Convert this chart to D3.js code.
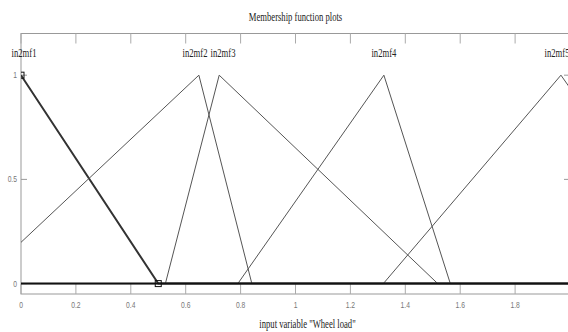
<!DOCTYPE html>
<html>
<head>
<meta charset="utf-8">
<script src="https://cdn.jsdelivr.net/npm/d3@7"></script>
<style>
  body { margin: 0; background: #fff; }
  svg { display: block; }
  .lbl { font-family: "Liberation Serif", serif; fill: #222; }
  .tick-lbl { font-family: "Liberation Sans", sans-serif; font-size: 9px; fill: #777; }
</style>
</head>
<body>
<div id="chart"></div>
<script>
// membership functions of input 2 (trimf parameters a, b, c)
var mfNames = ["in2mf1", "in2mf2", "in2mf3", "in2mf4", "in2mf5"],
    mfParams = [[-0.5, 0, 0.5], [-0.16, 0.648, 0.841], [0.526, 0.722, 1.518], [0.79, 1.322, 1.564], [1.32, 1.967, 2.5]],
    xTicks = [0, 0.2, 0.4, 0.6, 0.8, 1, 1.2, 1.4, 1.6, 1.8],
    yTicks = [0, 0.5, 1],
    xRange = [0, 2],
    yRange = [-0.05, 1.2],
    selected = 0;

var W = 568, H = 332,
    margin = { top: 33.5, right: -2, bottom: 38, left: 21 },
    width = W - margin.left - margin.right,
    height = H - margin.top - margin.bottom;

var svg = d3.select("#chart").append("svg")
    .attr("width", W)
    .attr("height", H);

var x = d3.scaleLinear().domain(xRange).range([0, width]);
var y = d3.scaleLinear().domain(yRange).range([height, 0]);

var g = svg.append("g")
    .attr("transform", "translate(" + margin.left + "," + margin.top + ")");

g.append("clipPath").attr("id", "clip")
  .append("rect").attr("width", width).attr("height", height);

// condensed serif text helper
function condensed(sel, px, sx, tx, ty, anchor, txt) {
  return sel.append("text")
    .attr("class", "lbl")
    .attr("font-size", px)
    .attr("text-anchor", anchor)
    .attr("transform", "translate(" + tx + "," + ty + ") scale(" + sx + ",1)")
    .text(txt);
}

// frame
g.append("rect")
  .attr("width", width).attr("height", height)
  .attr("fill", "none").attr("stroke", "#999").attr("stroke-width", 1);

// x ticks, top and bottom
g.selectAll(".xt-b").data(xTicks).enter().append("line")
  .attr("x1", function(d) { return x(d); }).attr("x2", function(d) { return x(d); })
  .attr("y1", height).attr("y2", height - 10)
  .attr("stroke", "#aaa");
g.selectAll(".xt-t").data(xTicks).enter().append("line")
  .attr("x1", function(d) { return x(d); }).attr("x2", function(d) { return x(d); })
  .attr("y1", 0).attr("y2", 10)
  .attr("stroke", "#aaa");
g.selectAll(".xl").data(xTicks).enter().append("text")
  .attr("class", "tick-lbl")
  .attr("text-anchor", "middle")
  .attr("transform", function(d) { return "translate(" + x(d) + "," + (height + 14) + ") scale(0.75,1)"; })
  .text(function(d) { return d; });

// y ticks, left and right
g.selectAll(".yt-l").data(yTicks).enter().append("line")
  .attr("x1", 0).attr("x2", 6)
  .attr("y1", function(d) { return y(d); }).attr("y2", function(d) { return y(d); })
  .attr("stroke", "#999");
g.selectAll(".yt-r").data(yTicks).enter().append("line")
  .attr("x1", width).attr("x2", width - 6)
  .attr("y1", function(d) { return y(d); }).attr("y2", function(d) { return y(d); })
  .attr("stroke", "#999");
g.selectAll(".yl").data(yTicks).enter().append("text")
  .attr("class", "tick-lbl")
  .attr("text-anchor", "end")
  .attr("transform", function(d) { return "translate(-4," + (y(d) + 3) + ") scale(0.75,1)"; })
  .text(function(d) { return d; });

// membership curves
function trimf(v, p) {
  if (v <= p[0] || v >= p[2]) return 0;
  return v <= p[1] ? (v - p[0]) / (p[1] - p[0]) : (p[2] - v) / (p[2] - p[1]);
}
function trimfPoints(p) {
  var xs = [xRange[0]].concat(p.filter(function(v) { return v > xRange[0] && v < xRange[1]; }), [xRange[1]]);
  return xs.map(function(v) { return [v, v === p[1] ? 1 : trimf(v, p)]; });
}

var line = d3.line()
  .x(function(d) { return x(d[0]); })
  .y(function(d) { return y(d[1]); });

var plot = g.append("g").attr("clip-path", "url(#clip)");

plot.selectAll(".mf").data(mfParams).enter().append("path")
  .attr("d", function(d) { return line(trimfPoints(d)); })
  .attr("fill", "none")
  .attr("stroke", function(d, i) { return i === selected ? "#333" : "#555"; })
  .attr("stroke-width", function(d, i) { return i === selected ? 2 : 1; });

// zero line
plot.append("line")
  .attr("x1", x(xRange[0])).attr("x2", x(xRange[1]))
  .attr("y1", y(0)).attr("y2", y(0))
  .attr("stroke", "#111").attr("stroke-width", 2);

// handles on selected mf
plot.selectAll(".handle").data(mfParams[selected].map(function(v, i) { return [v, i === 1 ? 1 : 0]; }))
  .enter().append("rect")
  .attr("x", function(d) { return x(d[0]) - 3; })
  .attr("y", function(d) { return y(d[1]) - 3; })
  .attr("width", 6).attr("height", 6)
  .attr("fill", "none").attr("stroke", "#111").attr("stroke-width", 1);

// mf labels, pushed apart when they collide
var labelX = mfParams.map(function(p) { return x(p[1]); });
var half = 13;
for (var i = 1; i < labelX.length; i++) {
  var gap = labelX[i] - labelX[i - 1];
  if (gap < 2 * half + 2) {
    var shift = (2 * half + 2 - gap) / 2;
    labelX[i - 1] -= shift;
    labelX[i] += shift;
  }
}
labelX = labelX.map(function(v) { return Math.max(half - 10, Math.min(width - half, v)); });
mfNames.forEach(function(n, i) {
  condensed(g, 12, 0.72, labelX[i], y(1) - 18, "middle", n);
});

// title and x label
condensed(svg, 12, 0.72, margin.left + width / 2, 21, "middle", "Membership function plots");
condensed(svg, 12, 0.72, margin.left + width / 2 + 12, 328, "middle", "input variable \"Wheel load\"");
</script>
</body>
</html>
